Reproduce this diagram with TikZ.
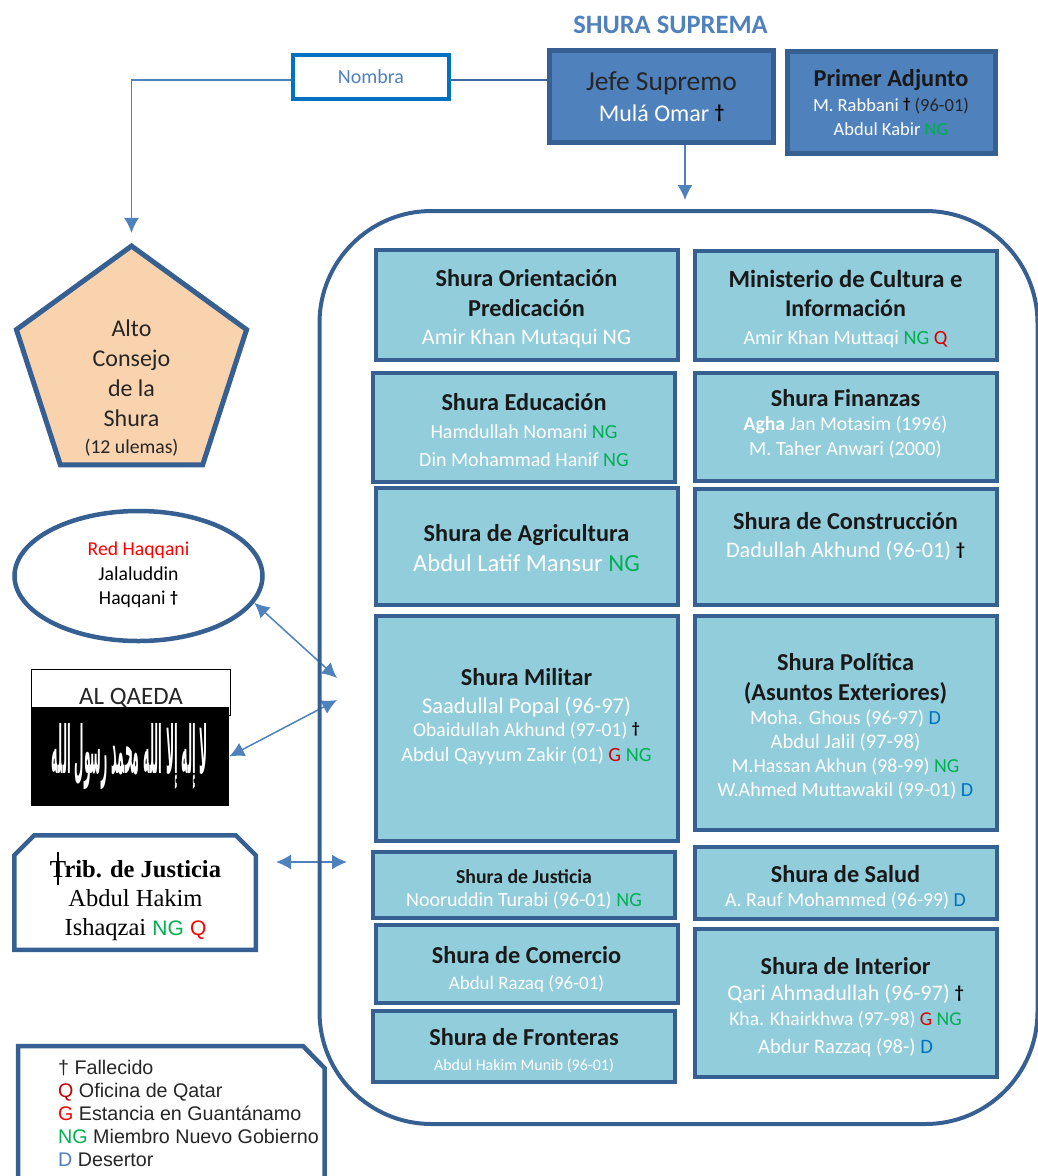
\documentclass[tikz,border=0pt]{standalone}
\usepackage{fontspec}
\usepackage{tikz}
\usetikzlibrary{shapes,arrows,arrows.meta,positioning,calc}
\setmainfont{Carlito}
\newfontfamily\armfont{Liberation Sans}
\newfontfamily\timesfont{Liberation Serif}
\newfontfamily\arabicfont[Script=Arabic]{DejaVu Sans}
\TeXXeTstate=1
\definecolor{marine}{HTML}{376092}
\definecolor{steel}{HTML}{4F81BD}
\definecolor{sky}{HTML}{92CDDC}
\definecolor{peach}{HTML}{F9D2AE}
\definecolor{linkblue}{HTML}{0070C0}
\definecolor{ngreen}{HTML}{00B050}
\newcommand{\hd}[2][24.3]{{\fontsize{#1}{28}\selectfont\bfseries\color{black!90}#2}}
\newcommand{\bd}[2][20]{{\fontsize{#1}{28}\selectfont\color{white}#2}}
\newcommand{\baja}[1]{\rule{0pt}{\dimexpr 18pt+#1pt+#1pt\relax}}
\newcommand{\tagdag}{\raisebox{2.5pt}{\scalebox{0.8}{\bfseries\color{black}†}}}
\newcommand{\tagng}{{\color{ngreen}NG}}
\newcommand{\tagq}{{\color{red!85!black}Q}}
\newcommand{\tagg}{{\color{red!85!black}G}}
\newcommand{\tagd}{{\color{linkblue}D}}
\tikzstyle{shura} = [draw=marine, rectangle, line width=4pt, fill=sky, minimum width=302pt,
    align=center, inner sep=0pt, font=\fontsize{20}{28}\selectfont]
\tikzstyle{mando} = [draw=marine, rectangle, line width=5pt, fill=steel, align=center, inner sep=0pt,
    font=\fontsize{20}{28}\selectfont]
\tikzstyle{side} = [draw=marine, line width=4.5pt, fill=white, align=center, inner sep=0pt]
\tikzstyle{arr} = [draw, line width=1.5pt, color=steel, ->, >={Latex[length=15pt,width=15pt]}]
\tikzstyle{dbl} = [draw, line width=1.5pt, color=steel, <->, >={Latex[length=15pt,width=15pt]}]

\begin{document}
\begin{tikzpicture}[x=1pt,y=-1pt]
    \useasboundingbox (0,0) rectangle (1038,1176);

    \node [mando, minimum width=224pt, minimum height=92pt] at (661.5,96.5) (jefe)
        {{\fontsize{27.5}{28}\selectfont\color{black!85}Jefe Supremo}\\[3pt]\bd[24]{Mulá Omar \tagdag}};
    \node [mando, right of=jefe, node distance=229.5pt, yshift=-6pt, minimum width=208pt, minimum height=102pt] (adjunto)
        {\hd{Primer Adjunto}\\[-3pt]\bd[18.5]{M. Rabbani \tagdag\ {\color{black!85}(96-01)}}\\[-4pt]\bd[18.5]{Abdul Kabir \tagng}};
    \node [above of=jefe, node distance=72pt, xshift=9pt, text=steel] (titulo)
        {\fontsize{26.5}{28}\selectfont\bfseries SHURA SUPREMA};
    \node [draw=linkblue, line width=4pt, minimum width=156pt, minimum height=44pt, inner sep=0pt,
        left of=jefe, node distance=290.5pt, yshift=19.5pt, text=steel] (nombra) {\fontsize{20}{20}\selectfont Nombra};

    % alto consejo
    \node [regular polygon, regular polygon sides=5, draw=marine, line width=5pt, fill=peach,
        minimum size=242pt, inner sep=0pt] at (131.5,367) (consejo) {};
    \node [below of=consejo, node distance=21pt, align=center, inner sep=0pt, text=black!85,
        font=\fontsize{24}{30}\selectfont] (consejotxt)
        {Alto\\Consejo\\de la\\Shura\\[-3pt]{\fontsize{19.7}{20}\selectfont (12 ulemas)}};

    \draw [marine!70!steel, line width=1.5pt] (jefe.west |- 0,80) -- (nombra.east |- 0,80);
    \draw [arr, shorten >=10pt] (nombra.west |- 0,80) -| (consejo.corner 1);
    \draw [arr] ([xshift=23.5pt]jefe.south) -- ++(0,55);

    % actores externos
    \node [ellipse, side, minimum width=248pt, minimum height=130pt] at (138.5,576) (haqqani) {};
    \node [below of=haqqani, node distance=-1pt, align=center, inner sep=0pt, font=\fontsize{19.7}{24.5}\selectfont] (haqqanitxt)
        {{\color{red}Red Haqqani}\\Jalaluddin\\Haqqani \tagdag};
    \node [draw, line width=0.8pt, fill=white, minimum width=199pt, minimum height=46pt, inner sep=0pt] at (131,692.5) (qaeda)
        {\raisebox{-11.5pt}[0pt][0pt]{\fontsize{25}{26}\selectfont\color{black!85}AL QAEDA}};
    \node [fill=black, minimum width=198pt, minimum height=99pt, inner sep=0pt] at (130,756.5) (bandera)
        {\resizebox{156pt}{50pt}{\color{white}\arabicfont\bfseries\beginR لا إله إلا الله محمد رسول الله\endR}};

    \draw [side] (14.25,855.25) -- (34.25,835.25) -- (235.75,835.25) -- (255.75,855.25) -- (255.75,949.75) -- (14.25,949.75) -- cycle;
    \node [align=center, inner sep=0pt, font=\fontsize{24.5}{29}\timesfont] at (135.5,892.5) (tribunal)
        {\baja{8}\textbf{Trib. de Justicia}\\Abdul Hakim\\Ishaqzai {\color{ngreen}\armfont\fontsize{21}{29}\selectfont NG} {\color{red}\armfont\fontsize{21}{29}\selectfont Q}};
    \coordinate (cursor_a) at (58,852);
    \coordinate (cursor_b) at (58,885);
    \draw [line width=1.3pt] (cursor_a) -- (cursor_b);

    \coordinate (hq_fin) at (337,678);
    \coordinate (aq_fin) at (337,700);
    \coordinate (tj_ini) at (276,862);
    \coordinate (tj_fin) at (347,862);
    \draw [dbl] (haqqani.-13) -- (hq_fin);
    \draw [dbl] (bandera.east) -- (aq_fin);
    \draw [dbl] (tj_ini) -- (tj_fin);

    % leyenda
    \draw [side] (18,1190) -- (18,1046) -- (303,1046) -- (324.5,1068) -- (324.5,1190);
    \node [align=left, inner sep=0pt, anchor=west, font=\fontsize{19.7}{23}\armfont, text=black!85] at (58,1113) (leyendatxt)
        {† Fallecido\\
         {\color{red!75!black}Q} Oficina de Qatar\\
         {\color{red}G} Estancia en Guantánamo\\
         {\color{ngreen}NG} Miembro Nuevo Gobierno\\
         {\color{steel}D} Desertor};

    % marco y shuras
    \node [draw=marine, line width=4pt, rounded corners=112pt, minimum width=718pt, minimum height=913pt, inner sep=0pt] at (678.5,667.5) (marco) {};

    \node [shura, minimum height=110pt] at (526.5,305) (orientacion)
        {\baja{3}\hd{Shura Orientación}\\[2pt]\hd{Predicación}\\\bd[22.2]{Amir Khan Mutaqui NG}};
    \node [shura, below of=orientacion, node distance=122.5pt, xshift=-2.5pt, minimum height=109pt] (educacion)
        {\baja{2.5}\hd{Shura Educación}\\\bd{Hamdullah Nomani \tagng}\\\bd{Din Mohammad Hanif \tagng}};
    \node [shura, below of=educacion, node distance=119pt, xshift=2.5pt, minimum height=117pt] (agricultura)
        {\baja{1.5}\hd{Shura de Agricultura}\\[2pt]\bd[24.6]{Abdul Latif Mansur \tagng}};
    \node [shura, below of=agricultura, node distance=182pt, minimum height=225pt] (militar)
        {\hd{Shura Militar}\\\bd[22.5]{Saadullal Popal (96-97)}\\[-5pt]\bd[19.6]{Obaidullah Akhund (97-01) \tagdag}\\[-3pt]\bd[20.2]{Abdul Qayyum Zakir (01) \tagg\ \tagng}\\~};
    \node [shura, below of=militar, node distance=156.5pt, xshift=-2.5pt, minimum height=66pt] (justicia)
        {\baja{2}\hd[19.8]{Shura de Justicia}\\[-5pt]\bd{Nooruddin Turabi (96-01) \tagng}};
    \node [shura, below of=justicia, node distance=79pt, xshift=2.5pt, minimum height=78pt] (comercio)
        {\baja{5}\hd{Shura de Comercio}\\[-2pt]\bd[19]{Abdul Razaq (96-01)}};
    \node [shura, below of=comercio, node distance=82.5pt, xshift=-2.5pt, minimum height=71pt] (fronteras)
        {\baja{4}\hd{Shura de Fronteras}\\[-3pt]\bd[16]{Abdul Hakim Munib (96-01)}};

    \node [shura, right of=orientacion, node distance=319pt, minimum height=109pt] (cultura)
        {\baja{4}\hd[24.6]{Ministerio de Cultura e}\\[1pt]\hd[24]{Información}\\\bd[20.2]{Amir Khan Muttaqi \tagng\ \tagq}};
    \node [shura, below of=cultura, node distance=122pt, minimum height=108pt] (finanzas)
        {\hd{Shura Finanzas}\\[-4pt]\bd[19.7]{\textbf{Agha} Jan Motasim (1996)}\\[-3pt]\bd[20.2]{M. Taher Anwari (2000)}\\[-19pt]~};
    \node [shura, below of=finanzas, node distance=120pt, minimum height=116pt] (construccion)
        {\hd{Shura de Construcción}\\\bd[22.2]{Dadullah Akhund (96-01) \tagdag}\\[-4pt]~};
    \node [shura, below of=construccion, node distance=176pt, minimum height=214pt] (politica)
        {\baja{3}\hd{Shura Política}\\[2pt]\hd{(Asuntos Exteriores)}\\[-4pt]\bd{Moha. Ghous (96-97) \tagd}\\[-4pt]\bd[20.6]{Abdul Jalil (97-98)}\\[-4pt]\bd[19.8]{M.Hassan Akhun (98-99) \tagng}\\[-4pt]\bd{W.Ahmed Muttawakil (99-01) \tagd}};
    \node [shura, below of=politica, node distance=160pt, minimum height=72pt] (salud)
        {\baja{3.5}\hd{Shura de Salud}\\[-4pt]\bd[19.8]{A. Rauf Mohammed (96-99) \tagd}};
    \node [shura, below of=salud, node distance=120pt, minimum height=148pt] (interior)
        {\baja{4}\hd{Shura de Interior}\\[-2pt]\bd[22.2]{Qari Ahmadullah (96-97) \tagdag}\\[-3pt]\bd[19.6]{Kha. Khairkhwa (97-98) \tagg\ \tagng}\\\bd[20.5]{Abdur Razzaq (98-) \tagd}};
\end{tikzpicture}
\end{document}
